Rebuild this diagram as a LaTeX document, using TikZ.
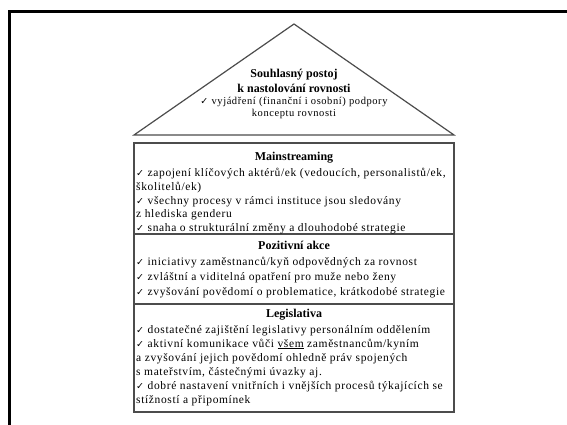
\documentclass[tikz,border=0pt]{standalone}
\usepackage{fontspec}
\setmainfont{Liberation Serif}
\newfontfamily\bodyfont{Liberation Serif}[LetterSpace=5.5]
\newfontfamily\roofbody{Liberation Serif}[LetterSpace=5.5]
\newfontfamily\chkfont{DejaVu Sans}
\newcommand{\ck}{{\chkfont\fontsize{9.5}{9.5}\selectfont ✓}}
\begin{document}
\begin{tikzpicture}[x=1pt,y=-1pt,
  frame/.style={line width=3pt,black},
  edge/.style={line width=1.2pt,black!70},
  ttl/.style={anchor=base,inner sep=0pt,font=\fontsize{12}{12}\selectfont\bfseries},
  txt/.style={anchor=base west,inner sep=0pt,font=\bodyfont\fontsize{11.5}{12}\selectfont},
  ctxt/.style={anchor=base,inner sep=0pt,font=\roofbody\fontsize{10.5}{12}\selectfont}]
\useasboundingbox (0,0) rectangle (567,425);
% outer frame
\coordinate (fr) at (567,12);
\coordinate (fc) at (9,12);
\coordinate (fb) at (9,425);
\draw[frame] (fr) -- (fc) -- (fb);
% roof
\coordinate (rl) at (134,135);
\coordinate (ra) at (294,24);
\coordinate (rr) at (454,135);
\draw[edge,line join=miter] (rl) -- (ra) -- (rr) -- cycle;
\node[ttl] (r1) at (294,78) {Souhlasný postoj};
\node[ttl] (r2) at (294,93) {k nastolování rovnosti};
\node[ctxt] (r3) at (294,105) {\ck\ vyjádření (finanční i osobní) podpory};
\node[ctxt] (r4) at (294,117) {konceptu rovnosti};
% house body
\coordinate (bl) at (134,143);
\coordinate (br) at (454,412);
\draw[edge] (bl) rectangle (br);
\coordinate (d1l) at (134,234);
\coordinate (d1r) at (454,234);
\coordinate (d2l) at (134,304);
\coordinate (d2r) at (454,304);
\draw[edge] (d1l) -- (d1r);
\draw[edge] (d2l) -- (d2r);
% Mainstreaming
\node[ttl] (m0) at (294,160) {Mainstreaming};
\node[txt] (m1) at (136,176) {\ck\ zapojení klíčových aktérů/ek (vedoucích, personalistů/ek,};
\node[txt] (m2) at (136,190) {školitelů/ek)};
\node[txt] (m3) at (136,204) {\ck\ všechny procesy v rámci instituce jsou sledovány};
\node[txt] (m4) at (136,217) {z hlediska genderu};
\node[txt] (m5) at (136,231) {\ck\ snaha o strukturální změny a dlouhodobé strategie};
% Pozitivni akce
\node[ttl] (p0) at (294,249) {Pozitivní akce};
\node[txt] (p1) at (136,265) {\ck\ iniciativy zaměstnanců/kyň odpovědných za rovnost};
\node[txt] (p2) at (136,280) {\ck\ zvláštní a viditelná opatření pro muže nebo ženy};
\node[txt] (p3) at (136,295) {\ck\ zvyšování povědomí o problematice, krátkodobé strategie};
% Legislativa
\node[ttl] (l0) at (294,317) {Legislativa};
\node[txt] (l1) at (136,333) {\ck\ dostatečné zajištění legislativy personálním oddělením};
\node[txt] (l2) at (136,347) {\ck\ aktivní komunikace vůči \underline{všem} zaměstnancům/kyním};
\node[txt] (l3) at (136,361) {a zvyšování jejich povědomí ohledně práv spojených};
\node[txt] (l4) at (136,375) {s mateřstvím, částečnými úvazky aj.};
\node[txt] (l5) at (136,389) {\ck\ dobré nastavení vnitřních i vnějších procesů týkajících se};
\node[txt] (l6) at (136,403) {stížností a připomínek};
\end{tikzpicture}
\end{document}
